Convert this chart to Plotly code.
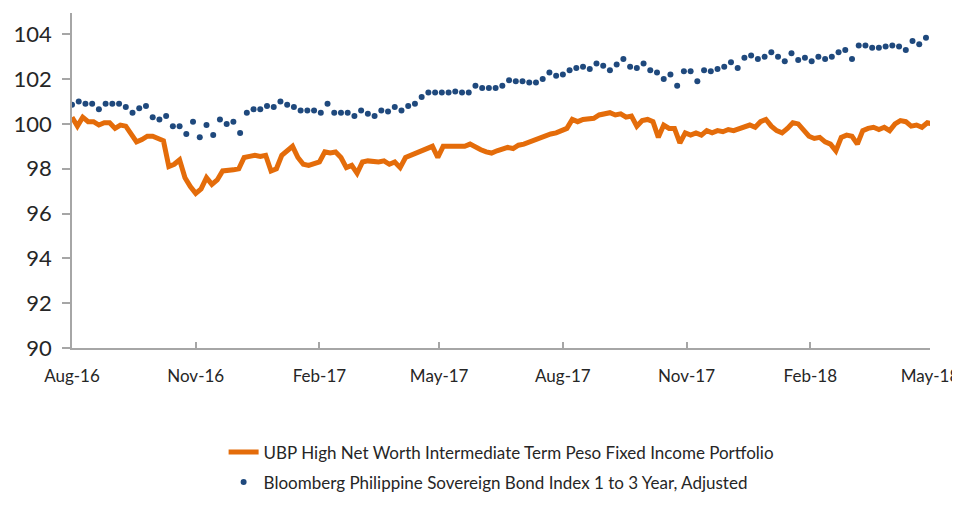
import pandas as pd
import plotly.graph_objects as go

# ---- data ----
portfolio_name = "UBP High Net Worth Intermediate Term Peso Fixed Income Portfolio"
benchmark_name = "Bloomberg Philippine Sovereign Bond Index 1 to 3 Year, Adjusted"

# portfolio value, one reading every 4 calendar days from 1 Aug 2016
portfolio_start = "2016-08-01"
portfolio_step_days = 4
portfolio_values = [
    100.3, 99.9, 100.3, 100.1, 100.1, 99.95, 100.05, 100.05, 99.8, 99.95,
    99.9, 99.5, 99.2, 99.3, 99.45, 99.45, 99.35, 99.25, 98.1, 98.2,
    98.4, 97.6, 97.2, 96.9, 97.1, 97.6, 97.3, 97.5, 97.9, 97.9,
    97.95, 98.0, 98.5, 98.55, 98.6, 98.55, 98.6, 97.9, 98.0, 98.6,
    98.8, 99.0, 98.5, 98.2, 98.15, 98.2, 98.3, 98.75, 98.7, 98.75,
    98.5, 98.05, 98.15, 97.8, 98.3, 98.35, 98.3, 98.3, 98.35, 98.2,
    98.3, 98.05, 98.5, 98.6, 98.7, 98.85, 98.95, 99.0, 98.5, 99.0,
    99.0, 99.0, 99.05, 99.0, 99.1, 98.95, 98.85, 98.75, 98.7, 98.8,
    98.85, 98.95, 98.9, 99.05, 99.1, 99.2, 99.25, 99.35, 99.5, 99.55,
    99.6, 99.7, 99.8, 100.2, 100.1, 100.2, 100.2, 100.25, 100.4, 100.45,
    100.5, 100.4, 100.45, 100.3, 100.35, 99.9, 100.15, 100.2, 100.1, 99.4,
    99.95, 99.8, 99.8, 99.15, 99.6, 99.5, 99.6, 99.5, 99.7, 99.6,
    99.7, 99.65, 99.75, 99.7, 99.8, 99.9, 99.95, 99.85, 100.1, 100.2,
    99.9, 99.7, 99.6, 99.8, 100.05, 100.0, 99.7, 99.45, 99.35, 99.4,
    99.2, 99.1, 98.8, 99.4, 99.5, 99.45, 99.1, 99.7, 99.8, 99.85,
    99.75, 99.85, 99.7, 100.0, 100.15, 100.1, 99.9, 99.95, 99.85, 100.05,
    100.0,
]

# benchmark value, one reading every 5 calendar days from 1 Aug 2016
benchmark_start = "2016-08-01"
benchmark_step_days = 5
benchmark_values = [
    100.85, 101.0, 100.9, 100.9, 100.65, 100.9, 100.9, 100.9, 100.75, 100.5,
    100.7, 100.8, 100.3, 100.2, 100.35, 99.9, 99.9, 99.55, 100.1, 99.4,
    99.95, 99.5, 100.2, 100.0, 100.1, 99.6, 100.5, 100.65, 100.65, 100.8,
    100.75, 101.0, 100.85, 100.75, 100.6, 100.6, 100.6, 100.5, 100.9, 100.5,
    100.5, 100.5, 100.35, 100.6, 100.45, 100.35, 100.6, 100.55, 100.75, 100.6,
    100.8, 100.9, 101.2, 101.4, 101.4, 101.4, 101.4, 101.45, 101.4, 101.4,
    101.7, 101.6, 101.6, 101.6, 101.7, 101.95, 101.9, 101.9, 101.85, 101.85,
    102.0, 102.3, 102.15, 102.2, 102.4, 102.5, 102.55, 102.45, 102.7, 102.6,
    102.4, 102.65, 102.9, 102.55, 102.5, 102.7, 102.4, 102.3, 102.0, 102.2,
    101.7, 102.35, 102.35, 101.9, 102.4, 102.35, 102.45, 102.55, 102.75, 102.5,
    102.95, 103.05, 102.9, 103.0, 103.2, 103.0, 102.8, 103.15, 102.85, 102.95,
    102.8, 103.0, 102.9, 103.0, 103.2, 103.3, 102.9, 103.5, 103.5, 103.4,
    103.4, 103.45, 103.5, 103.45, 103.3, 103.7, 103.55, 103.85,
]

tick_dates = ["2016-08-01", "2016-11-01", "2017-02-01", "2017-05-01",
              "2017-08-01", "2017-11-01", "2018-02-01", "2018-05-01"]
tick_labels = ["Aug-16", "Nov-16", "Feb-17", "May-17",
               "Aug-17", "Nov-17", "Feb-18", "May-18"]
y_ticks = [90, 92, 94, 96, 98, 100, 102, 104]

# ---- figure ----
portfolio_dates = pd.date_range(portfolio_start, periods=len(portfolio_values),
                                freq=f"{portfolio_step_days}D")
benchmark_dates = pd.date_range(benchmark_start, periods=len(benchmark_values),
                                freq=f"{benchmark_step_days}D")

ORANGE = "#E46C0A"
BLUE = "#1F497D"
FONT = "Lato, 'Open Sans', sans-serif"
TEXT = "#262626"
AXIS = "#A6A6A6"

fig = go.Figure()
fig.add_trace(go.Scatter(
    x=portfolio_dates, y=portfolio_values, mode="lines",
    name=portfolio_name, line=dict(color=ORANGE, width=5),
    legendgroup="a",
))
fig.add_trace(go.Scatter(
    x=benchmark_dates, y=benchmark_values, mode="markers",
    name=benchmark_name, marker=dict(color=BLUE, size=6),
    legendgroup="b",
))

# the page body has an 8px margin, so the figure is 8px smaller than the window
fig.update_layout(
    width=952, height=498,
    margin=dict(l=64, r=30, t=5, b=155),
    paper_bgcolor="white", plot_bgcolor="white",
    font=dict(family=FONT, color=TEXT),
    showlegend=True,
    legend=dict(
        orientation="v", x=0.1767, y=-0.455, xanchor="left", yanchor="bottom",
        font=dict(family=FONT, size=17, color=TEXT),
        tracegroupgap=5, bgcolor="rgba(0,0,0,0)",
    ),
)
fig.update_xaxes(
    range=["2016-08-01", "2018-05-01"],
    tickvals=tick_dates, ticktext=tick_labels,
    showgrid=False, zeroline=False, automargin=False,
    showline=True, linecolor=AXIS, linewidth=1.5,
    ticks="inside", ticklen=6, tickcolor=AXIS, tickwidth=1.5,
    ticklabelstandoff=12,
    tickfont=dict(family=FONT, size=17, color=TEXT),
)
fig.update_yaxes(
    range=[90, 104.95], tickvals=y_ticks,
    showgrid=False, zeroline=False, automargin=False,
    showline=True, linecolor=AXIS, linewidth=1.5,
    ticks="outside", ticklen=8, tickcolor=AXIS, tickwidth=1.5,
    ticklabelstandoff=6,
    tickfont=dict(family=FONT, size=22, color=TEXT),
)

fig.write_html("out.html")
